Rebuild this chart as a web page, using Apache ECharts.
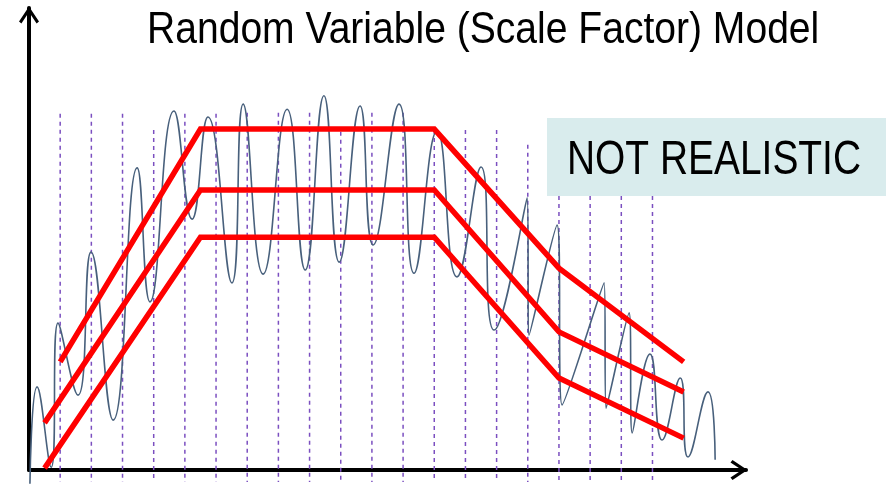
<!DOCTYPE html>
<html>
<head>
<meta charset="utf-8">
<style>
  html, body { margin: 0; padding: 0; background: #ffffff; }
  #chart { width: 886px; height: 485px; }
</style>
<script src="https://cdn.jsdelivr.net/npm/echarts@6/dist/echarts.min.js"></script>
</head>
<body>
<div id="chart"></div>
<script>
// Time positions of the purple dashed markers and where each one starts at the top
const markerX = [1, 2, 3, 4, 5, 6, 7, 8, 9, 10, 11, 12, 13, 14, 15, 16, 17, 18, 19, 20];
const markerTop = [77.1, 77.1, 77.1, 73.6, 77.1, 77.1, 77.3, 77.3, 77.3, 73.2,
                   77.3, 77.3, 73.6, 73.6, 73.6, 70.4, 59.3, 59.3, 59.3, 59.3];
const markerBottom = -2.6;

// Oscillating signal: successive extremes (time, level)
const signalX = [0.03, 0.26, 0.71, 0.93, 1.57, 1.99, 2.70, 3.47, 3.88, 4.65,
                 5.23, 5.74, 6.51, 6.87, 7.51, 8.28, 8.86, 9.46, 9.95, 10.62,
                 11.04, 11.87, 12.35, 13.09, 13.73, 14.50, 14.92, 15.98, 16.04, 16.94,
                 17.10, 18.45, 18.51, 19.25, 19.35, 19.92, 20.31, 20.89, 21.14, 21.78, 22.01];
const signalY = [-3.0, 18.0, 0.6, 31.8, 16.2, 47.2, 10.8, 65.4, 36.4, 77.7,
                 54.3, 76.4, 40.5, 79.2, 42.4, 78.1, 43.3, 81.0, 45.0, 78.8,
                 48.7, 79.2, 42.6, 73.4, 41.8, 65.6, 30.3, 58.9, 29.2, 53.0,
                 14.1, 40.5, 13.4, 34.0, 8.0, 25.1, 6.5, 19.9, 2.8, 16.9, 2.2];

// Three scaled trapezoid profiles (ramp up, plateau, two-stage ramp down)
const upperX = [1, 5.5, 13, 17, 21];
const upperY = [23.4, 73.8, 73.8, 43.7, 23.4];
const middleX = [0.5, 5.5, 13, 17, 21];
const middleY = [10.2, 60.6, 60.6, 29.9, 16.9];
const lowerX = [0.5, 5.5, 13, 17, 21];
const lowerY = [0.4, 50.4, 50.4, 19.9, 6.9];

const pairs = (xs, ys) => xs.map((x, i) => [x, ys[i]]);

// vertical markers as one broken polyline
const markerData = [];
markerX.forEach((x, i) => {
  markerData.push([x, markerTop[i]], [x, markerBottom], [x, '-']);
});

const FONT = '"Liberation Sans", Arial, sans-serif';

const chart = echarts.init(document.getElementById('chart'), null, { renderer: 'canvas' });

const arrowUp = 'path://M10,0 L20,15 L17.6,17 L10,5.6 L2.4,17 L0,15 Z';

chart.setOption({
  animation: false,
  backgroundColor: '#ffffff',
  grid: { left: 29, right: 140, top: 8, bottom: 15 },
  xAxis: {
    type: 'value', min: 0, max: 23,
    splitLine: { show: false }, axisTick: { show: false }, axisLabel: { show: false },
    axisLine: {
      show: true,
      lineStyle: { color: '#000000', width: 4 },
      symbol: ['none', arrowUp],
      symbolSize: [20, 17],
      symbolOffset: [0, -7]
    }
  },
  yAxis: {
    type: 'value', min: 0, max: 100,
    splitLine: { show: false }, axisTick: { show: false }, axisLabel: { show: false },
    axisLine: {
      show: true,
      lineStyle: { color: '#000000', width: 4 },
      symbol: ['none', arrowUp],
      symbolSize: [20, 17],
      symbolOffset: [0, -7]
    }
  },
  series: [
    {
      type: 'line',
      data: markerData,
      showSymbol: false,
      clip: false,
      silent: true,
      z: 1,
      lineStyle: { color: '#7b4fc0', width: 1.5, type: [4, 4] }
    },
    {
      type: 'line',
      data: pairs(signalX, signalY),
      showSymbol: false,
      smooth: 0.5,
      clip: false,
      z: 2,
      lineStyle: { color: '#48607c', width: 1.6 }
    },
    {
      type: 'line', data: pairs(upperX, upperY), showSymbol: false, z: 3,
      lineStyle: { color: '#ff0000', width: 5.5, cap: 'butt', join: 'miter' }
    },
    {
      type: 'line', data: pairs(middleX, middleY), showSymbol: false, z: 3,
      lineStyle: { color: '#ff0000', width: 5.5, cap: 'butt', join: 'miter' }
    },
    {
      type: 'line', data: pairs(lowerX, lowerY), showSymbol: false, z: 3,
      lineStyle: { color: '#ff0000', width: 5.5, cap: 'butt', join: 'miter' }
    }
  ],
  graphic: [
    {
      // chart heading, set in a condensed cut
      type: 'text',
      x: 147, y: 53,
      scaleX: 0.868,
      z: 10,
      style: { text: 'Random Variable (Scale Factor) Model', fontFamily: FONT, fontSize: 45,
               fill: '#000000', textVerticalAlign: 'bottom' }
    },
    {
      type: 'rect',
      x: 547, y: 118,
      z: 10,
      shape: { x: 0, y: 0, width: 339, height: 78 },
      style: { fill: '#d9eced' }
    },
    {
      type: 'text',
      x: 567, y: 184.5,
      scaleX: 0.794,
      z: 11,
      style: { text: 'NOT REALISTIC', fontFamily: FONT, fontSize: 49, fill: '#000000',
               textVerticalAlign: 'bottom' }
    }
  ]
});
</script>
</body>
</html>
